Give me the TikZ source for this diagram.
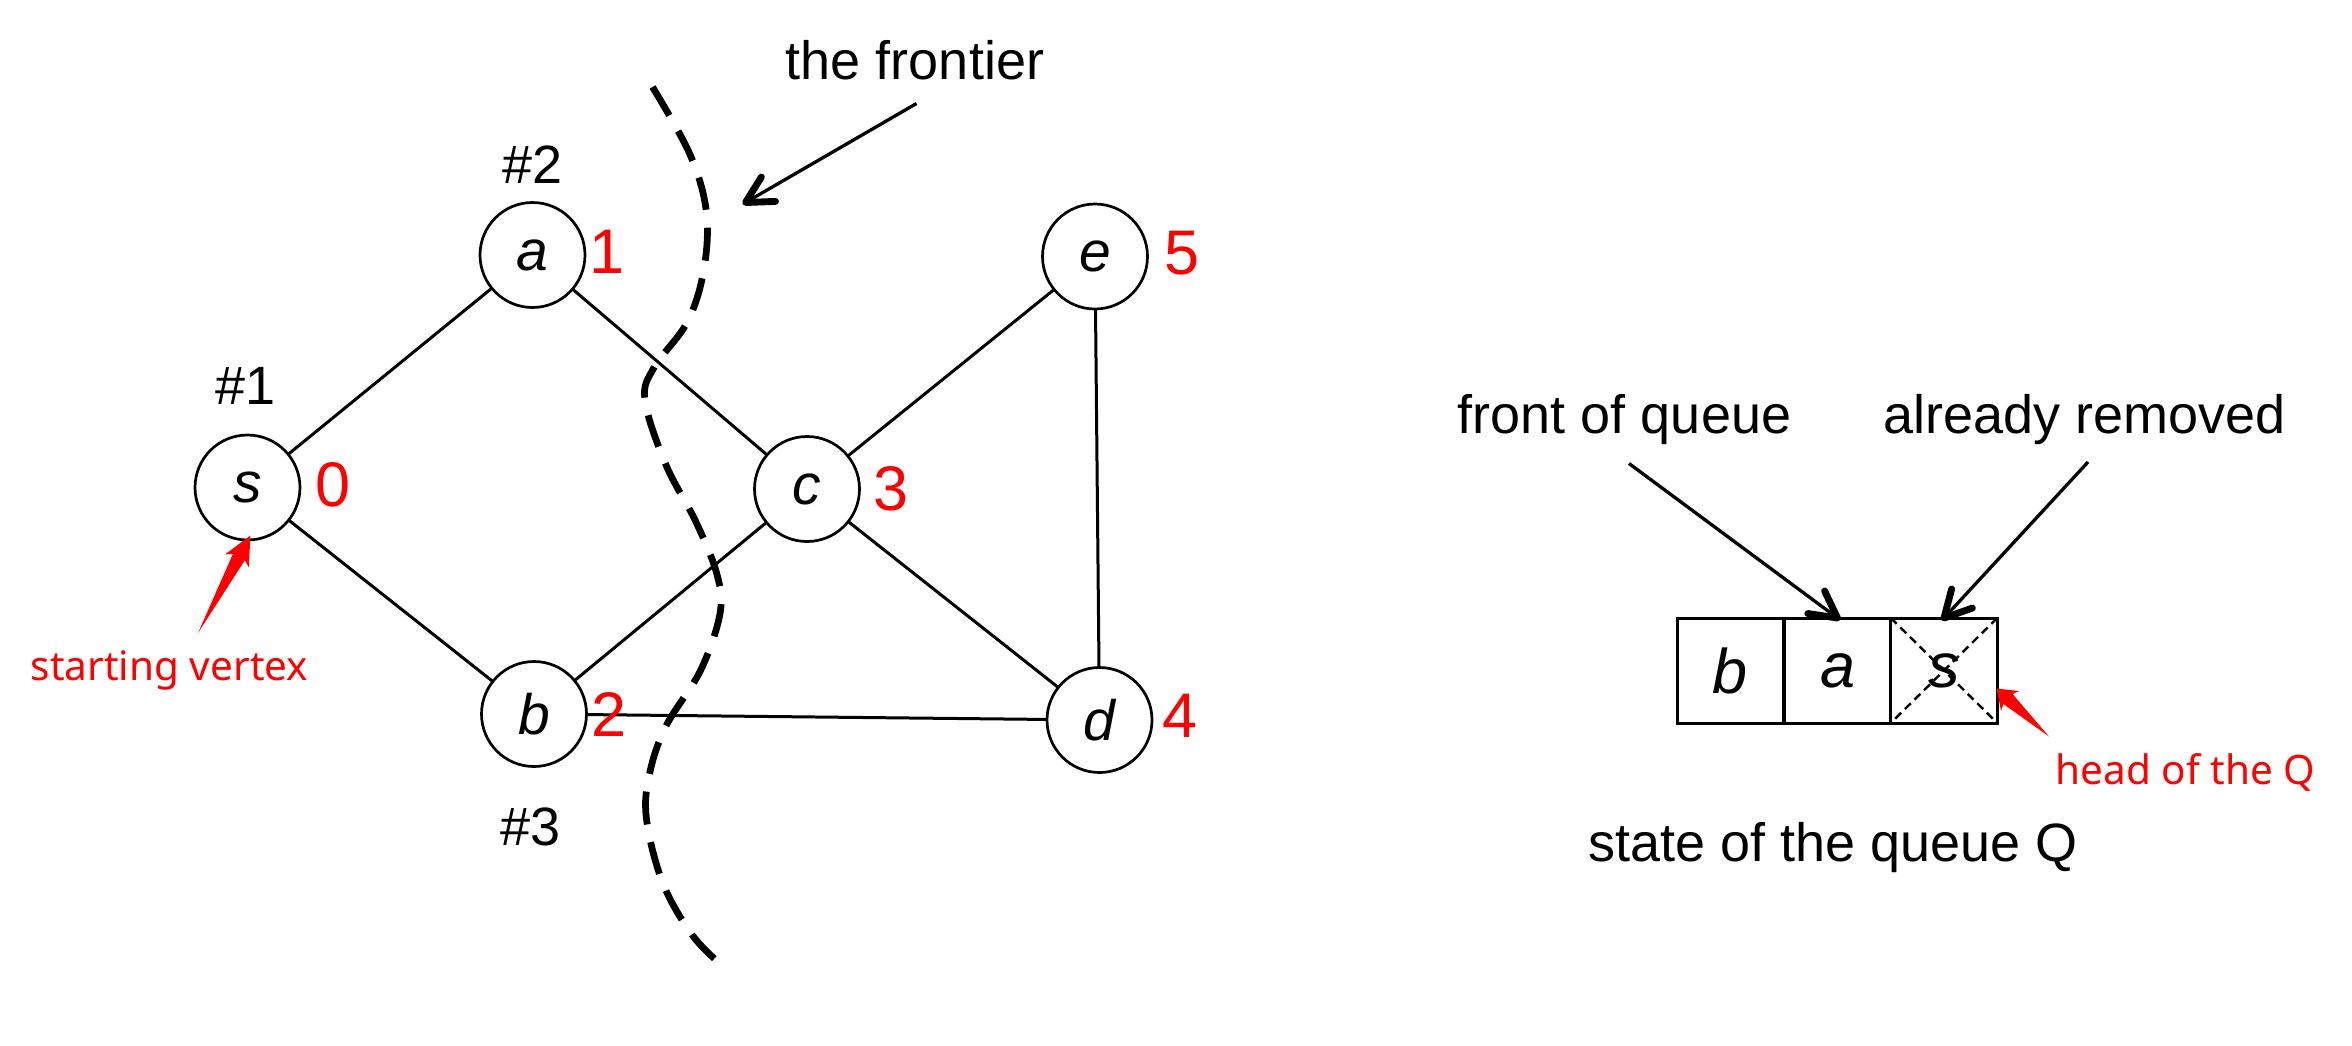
\documentclass[tikz,border=0pt]{standalone}
\usepackage{fontspec}
\setmainfont{Liberation Sans}
\newfontfamily\notefont{Noto Sans}
\usetikzlibrary{calc,arrows.meta}

\tikzset{
  vertex/.style={circle, draw, line width=1.8pt, minimum size=70pt, inner sep=0pt, outer sep=0pt,
    font=\fontsize{38}{40}\selectfont\itshape},
  dist/.style={text=red, font=\fontsize{42}{44}\selectfont, inner sep=0pt},
  tag/.style={font=\fontsize{36}{40}\selectfont, inner sep=0pt},
  note/.style={text=red, font=\notefont\fontsize{27}{30}\selectfont, inner sep=0pt},
  edge/.style={line width=2pt},
  frontier/.style={line width=4.5pt, dash pattern=on 22pt off 12pt},
  pointer/.style={line width=2.2pt},
  barb/.style={line width=4.6pt, line cap=round, line join=round},
  cell/.style={draw, line width=2pt, minimum width=71pt, minimum height=70pt, inner sep=0pt, outer sep=0pt,
    font=\fontsize{42}{44}\selectfont\itshape},
  cross/.style={line width=1.6pt, dash pattern=on 5.5pt off 3.5pt},
}

% black pointer with a heavy open head, from #1 (tail) to #2 (tip)
\newcommand\pointerarrow[2]{%
  \draw[pointer] (#1) -- (#2);
  \draw[barb] ($(#2)!20pt!28:(#1)$) -- (#2) -- ($(#2)!20pt!-28:(#1)$);}

% red tapered arrow from #1 (tail) to #2 (tip)
\newcommand\wedgearrow[2]{%
  \path ($(#1)!0.78!(#2)$) coordinate (wb) ($(#1)!0.74!(#2)$) coordinate (wh);
  \fill[red] (#1) -- ($(wb)!4.5pt!90:(#2)$) -- ($(wh)!9pt!90:(#2)$)
    -- (#2) -- ($(wh)!9pt!-90:(#2)$) -- ($(wb)!4.5pt!-90:(#2)$) -- cycle;}

\begin{document}
\begin{tikzpicture}[x=1pt, y=-1pt]
\useasboundingbox (0,0) rectangle (1568,697);

% graph vertices
\node[vertex] (s) at (165,325) {s};
\node[vertex] (a) at (355,170) {a};
\node[vertex] (b) at (356,476) {b};
\node[vertex] (c) at (538,326) {c};
\node[vertex] (e) at (730,171) {e};
\node[vertex] (d) at (733,480) {d};

% edges
\draw[edge] (s) -- (a);
\draw[edge] (s) -- (b);
\draw[edge] (a) -- (c);
\draw[edge] (b) -- (c);
\draw[edge] (c) -- (e);
\draw[edge] (c) -- (d);
\draw[edge] (e) -- (d);
\draw[edge] (b) -- (d);

% distances
\node[dist] (n0) at (222,323) {0};
\node[dist] (n1) at (405,168) {1};
\node[dist] (n2) at (406,476) {2};
\node[dist] (n3) at (594,326) {3};
\node[dist] (n5) at (788,169) {5};
\node[dist] (n4) at (787,477) {4};

% visiting order
\node[tag] (t1) at (164,257) {\#1};
\node[tag] (t2) at (355,110) {\#2};
\node[tag] (t3) at (354,551) {\#3};

% frontier
\draw[frontier] plot[smooth, tension=0.6] coordinates {
  (435,58) (460,103) (471,142) (469,181) (458,215) (436,245) (430,267)
  (444,310) (464,348) (478,383) (480,409) (467,447) (444,484) (433,516)
  (431,546) (442,589) (462,624) (483,645)};
\node[tag] (ft) at (610,40) {the frontier};
\coordinate (ftail) at (611,69);
\coordinate (fhead) at (497,135);
\pointerarrow{ftail}{fhead}

% starting vertex
\node[note] (sv) at (113,447) {starting vertex};
\coordinate (svtail) at (132,422);
\coordinate (svtip) at (167,357);
\wedgearrow{svtail}{svtip}

% queue
\node[cell] (q1) at (1153.5,447) {b};
\node[cell] (q2) at (1225,447) {a};
\node[cell] (q3) at (1296,447) {s};
\draw[cross] (q3.north west) -- (q3.south east) (q3.north east) -- (q3.south west);

\node[tag] (fq) at (1083,280) {front of queue};
\node[tag] (ar) at (1390,280) {already removed};
\node[tag] (sq) at (1222,565) {state of the queue Q};
\coordinate (fqtail) at (1086,309);
\coordinate (artail) at (1392,308);
\pointerarrow{fqtail}{q2.north}
\pointerarrow{artail}{q3.north}

\node[note] (hq) at (1457,515) {head of the Q};
\coordinate (hqtail) at (1366,491);
\coordinate (hqtip) at (1331,459);
\wedgearrow{hqtail}{hqtip}
\end{tikzpicture}
\end{document}
